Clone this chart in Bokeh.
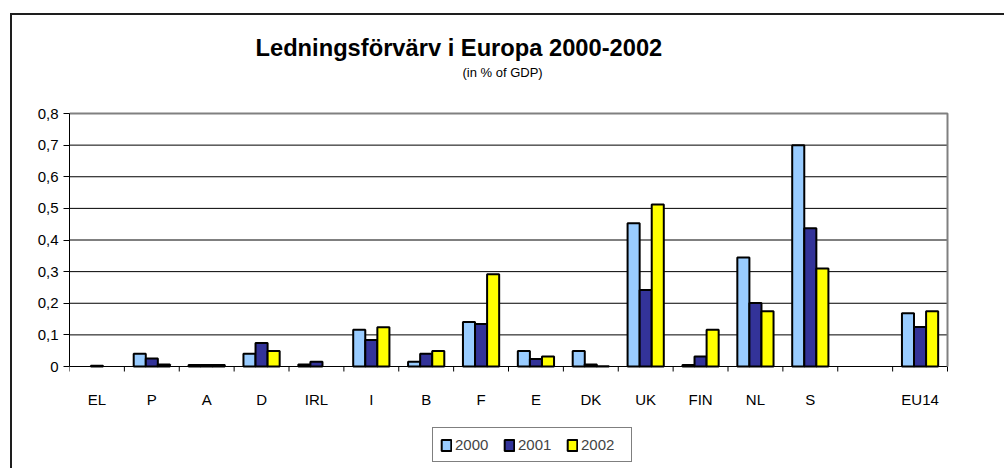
import numpy as np
from bokeh.plotting import figure
from bokeh.models import (Range1d, FixedTicker, CustomJSTickFormatter, Legend,
                          LegendItem, ColumnDataSource, Title, InlineStyleSheet)
from bokeh.core.properties import value
from bokeh.transform import dodge
from bokeh.embed import file_html
from bokeh.resources import INLINE

# ---------------- data ----------------
categories = ["EL", "P", "A", "D", "IRL", "I", "B", "F", "E", "DK", "UK", "FIN", "NL", "S", "", "EU14"]
series_names = ["2000", "2001", "2002"]
v2000 = [None, 0.040, 0.005, 0.040, 0.006, 0.116, 0.015, 0.141, 0.049, 0.049, 0.453, 0.005, 0.345, 0.700, None, 0.168]
v2001 = [0.002, 0.025, 0.005, 0.074, 0.015, 0.084, 0.040, 0.134, 0.024, 0.006, 0.242, 0.032, 0.201, 0.437, None, 0.125]
v2002 = [None, 0.006, 0.005, 0.049, None, 0.124, 0.049, 0.292, 0.032, 0.001, 0.512, 0.116, 0.175, 0.310, None, 0.175]
y_ticks = [0.0, 0.1, 0.2, 0.3, 0.4, 0.5, 0.6, 0.7, 0.8]
title_text = "Ledningsförvärv i Europa 2000-2002"
subtitle_text = "(in % of GDP)"

colors = ["#99CCFF", "#333399", "#FFFF00"]
FONT = "Liberation Sans"

# ---------------- layout (canvas pixels) ----------------
W, H = 1004, 468
AX_L, AX_R, AX_T, AX_B = 69, 947, 113, 366   # drawn plot area
FR_T, FR_R = 80, 995                          # frame reaches beyond it (room for legend/labels)

n = len(categories)
y_max = y_ticks[-1]
px_per_x = (AX_R - AX_L) / n
px_per_y = (AX_B - AX_T) / y_max
x_end = (FR_R - AX_L) / px_per_x
y_end = (AX_B - FR_T) / px_per_y
y_start = -(H - AX_B) / px_per_y
tick_len = 5 / px_per_y

pos = np.arange(n) + 0.5
bounds = np.arange(n + 1)
source = ColumnDataSource(dict(
    pos=pos,
    cat=categories,
    y2000=np.array(v2000, dtype=float),
    y2001=np.array(v2001, dtype=float),
    y2002=np.array(v2002, dtype=float),
))
grid_src = ColumnDataSource(dict(y=y_ticks, x0=[0] * len(y_ticks), x1=[n] * len(y_ticks)))
tick_src = ColumnDataSource(dict(x=bounds, y0=[0] * len(bounds), y1=[-tick_len] * len(bounds)))

border_css = InlineStyleSheet(css="""
:host { position: relative; overflow: hidden; }
:host::after { content: ""; position: absolute; left: 10px; top: 13px;
  width: 3000px; height: 3000px; box-sizing: border-box;
  border-left: 2px solid #1e1e1e; border-top: 2px solid #1e1e1e;
  pointer-events: none; }
""")

p = figure(width=W, height=H, x_range=Range1d(0, x_end), y_range=Range1d(y_start, y_end),
           output_backend="svg", toolbar_location=None, title=None,
           x_axis_location=None, y_axis_location="left",
           min_border_left=AX_L, min_border_right=W - FR_R, min_border_top=FR_T,
           min_border_bottom=0)
p.stylesheets = [border_css]
p.background_fill_color = "white"
p.border_fill_color = "white"
p.outline_line_color = None
p.xgrid.visible = False
p.ygrid.visible = False

# horizontal grid lines (the one at 0 is the category axis line)
p.segment(x0="x0", x1="x1", y0="y", y1="y", source=grid_src, line_color="black", line_width=1)
# category-axis tick marks between the categories
p.segment(x0="x", x1="x", y0="y0", y1="y1", source=tick_src, line_color="black", line_width=1)

bw = 0.22
renderers = []
for i, (name, col) in enumerate(zip(series_names, colors)):
    r = p.vbar(x=dodge("pos", (i - 1) * bw), top="y" + name, bottom=0, width=bw,
               fill_color=col, line_color="black", line_width=2, source=source)
    renderers.append(r)

# grey plot-area border (top and right)
p.line(x=[0, n, n], y=[y_max, y_max, 0], line_color="#808080", line_width=2)

# category labels
p.text(x="pos", y=0, text="cat", source=source, text_align="center",
       text_baseline="alphabetic", y_offset=32.5, text_font=value(FONT),
       text_font_size="15px", text_color="black")

# y axis
ya = p.yaxis[0]
ya.bounds = (0, y_max)
ya.ticker = FixedTicker(ticks=y_ticks)
ya.formatter = CustomJSTickFormatter(
    code='return tick === 0 ? "0" : tick.toFixed(1).replace(".", ",");')
ya.major_tick_line_color = "black"
ya.major_tick_out = 6
ya.major_tick_in = 0
ya.minor_tick_line_color = None
ya.axis_line_color = "black"
ya.major_label_standoff = 5
ya.major_label_text_font = FONT
ya.major_label_text_font_size = "15px"
ya.major_label_text_color = "black"

# titles (first added = nearest the plot frame)
p.add_layout(Title(text=subtitle_text, align="left", offset=393, standoff=2,
                   text_font=FONT, text_font_style="normal", text_font_size="13px",
                   text_color="black"), "above")
p.add_layout(Title(text=title_text, align="left", offset=186, standoff=2,
                   text_font=FONT, text_font_style="bold", text_font_size="23.7px",
                   text_color="black"), "above")

legend = Legend(items=[LegendItem(label=nm, renderers=[r]) for nm, r in zip(series_names, renderers)],
                orientation="horizontal", location=(432 - AX_L, 6),
                border_line_color="black", border_line_width=1,
                background_fill_color="white", background_fill_alpha=1,
                glyph_width=12, glyph_height=14, label_text_font=FONT,
                label_text_font_size="15px", label_height=19, label_width=43,
                label_standoff=3, spacing=5, padding=7, margin=0)
p.add_layout(legend)

open("out.html", "w").write(file_html(p, INLINE))
